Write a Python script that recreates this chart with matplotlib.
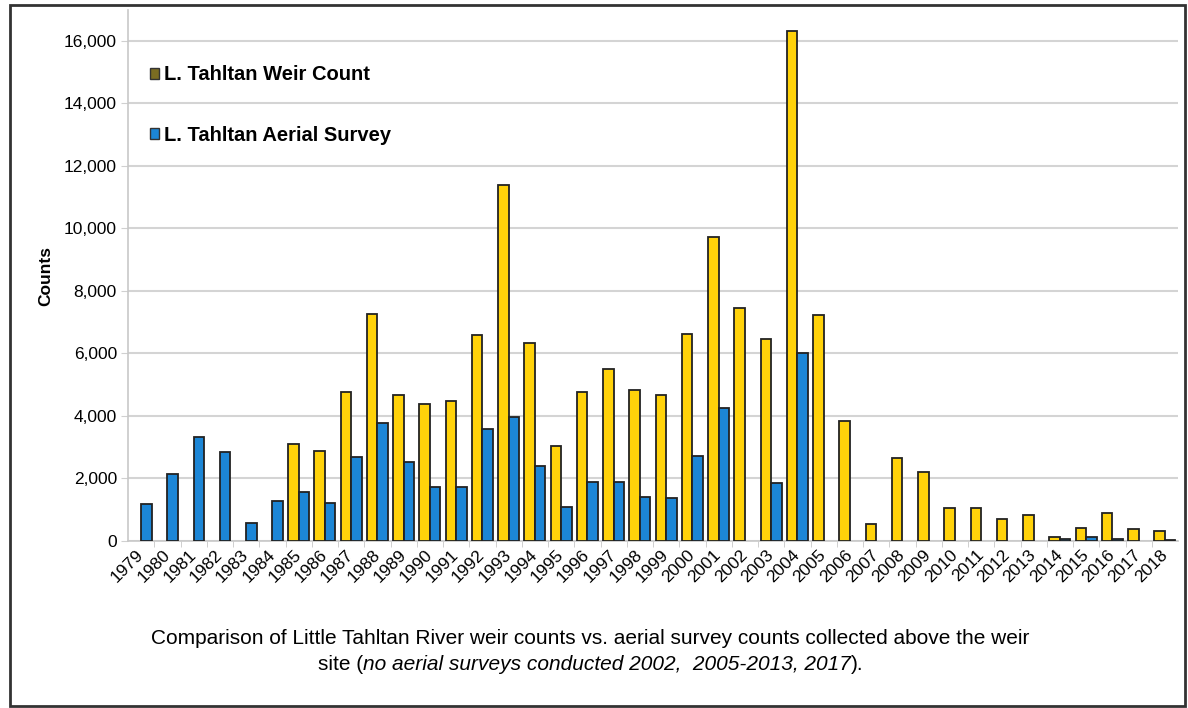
import matplotlib.pyplot as plt
import numpy as np
from matplotlib.patches import Patch, Rectangle

plt.rcParams['font.family'] = ['Liberation Sans', 'DejaVu Sans']

years = [str(y) for y in range(1979, 2019)]
weir = [0, 0, 0, 0, 0, 0, 3100, 2890, 4770, 7260, 4670, 4380, 4480, 6590, 11400,
        6330, 3040, 4770, 5500, 4830, 4670, 6620, 9720, 7460, 6460, 16330, 7240,
        3850, 540, 2640, 2200, 1040, 1040, 700, 830, 140, 410, 880, 380, 320]
aerial = [1180, 2140, 3330, 2850, 580, 1280, 1570, 1210, 2690, 3780, 2530, 1730,
          1730, 3580, 3970, 2400, 1090, 1890, 1900, 1400, 1360, 2720, 4240, 0,
          1870, 6020, 0, 0, 0, 0, 0, 0, 0, 0, 0, 60, 120, 60, 0, 20]

gold = '#FFD20A'
blue = '#1C86D6'

fig = plt.figure(figsize=(11.88, 7.08), dpi=100)
ax = fig.add_axes([128 / 1188, 1 - 541 / 708, 1050 / 1188, 531 / 708])

x = np.arange(len(years))
w = 0.4
# years without a count get no bar at all
weir_m = np.where(np.array(weir) > 0, weir, np.nan)
aerial_m = np.where(np.array(aerial) > 0, aerial, np.nan)
ax.bar(x - w / 2, weir_m, w, color=gold, edgecolor='#222222', linewidth=1.3, zorder=3)
ax.bar(x + w / 2, aerial_m, w, color=blue, edgecolor='#222222', linewidth=1.3, zorder=3)

ax.set_xlim(-0.5, len(years) - 0.5)
ax.set_ylim(0, 16990)
ax.set_yticks(range(0, 16001, 2000))
ax.set_yticklabels(['{:,}'.format(v) for v in range(0, 16001, 2000)], fontsize=12.5)
ax.yaxis.grid(True, color='#d4d4d4', linewidth=1.5, zorder=0)
ax.tick_params(axis='y', length=5, color='#d0d0d0', pad=3)

ax.set_xticks(x)
ax.set_xticklabels(years, rotation=45, ha='right', va='center',
                   rotation_mode='anchor', fontsize=12.5)
ax.set_xticks(x[:-1] + 0.5, minor=True)
ax.tick_params(axis='x', which='major', length=0, pad=8)
ax.tick_params(axis='x', which='minor', length=4, color='#c8c8c8')

for s in ['top', 'right']:
    ax.spines[s].set_visible(False)
ax.spines['left'].set_color('#c8c8c8')
ax.spines['bottom'].set_color('#c8c8c8')
ax.spines['left'].set_linewidth(1.2)
ax.spines['bottom'].set_linewidth(1.2)

ax.set_ylabel('Counts', fontsize=12.5, fontweight='bold', labelpad=8)

handles = [Patch(facecolor='#7b6c22', edgecolor='#333333'),
           Patch(facecolor=blue, edgecolor='#333333')]
leg = ax.legend(handles, ['L. Tahltan Weir Count', 'L. Tahltan Aerial Survey'],
                loc='upper left', bbox_to_anchor=(0.004, 0.93), frameon=False,
                handlelength=0.45, handleheight=0.45, handletextpad=0.25,
                labelspacing=2.05, prop={'weight': 'bold', 'size': 14.5})

# caption below the chart
fig.text(0.497, 1 - 639 / 708,
         'Comparison of Little Tahltan River weir counts vs. aerial survey counts collected above the weir',
         ha='center', va='center', fontsize=15)

pieces = [('site (', 'normal'), ('no aerial surveys conducted 2002,  2005-2013, 2017', 'italic'),
          (').', 'normal')]
fig.canvas.draw()
r = fig.canvas.get_renderer()
texts = []
for s, st in pieces:
    t = fig.text(0, 1 - 665 / 708, s, ha='left', va='center', fontsize=15, style=st)
    texts.append(t)
widths = [t.get_window_extent(r).width for t in texts]
x0 = 0.497 * 1188 - sum(widths) / 2
for t, wd in zip(texts, widths):
    t.set_x(x0 / 1188)
    x0 += wd

fig.patches.append(Rectangle((10 / 1188, 2 / 708), 1175 / 1188, 701 / 708,
                             transform=fig.transFigure, fill=False,
                             edgecolor='#333333', linewidth=2))

fig.savefig('out.png', dpi=100)
